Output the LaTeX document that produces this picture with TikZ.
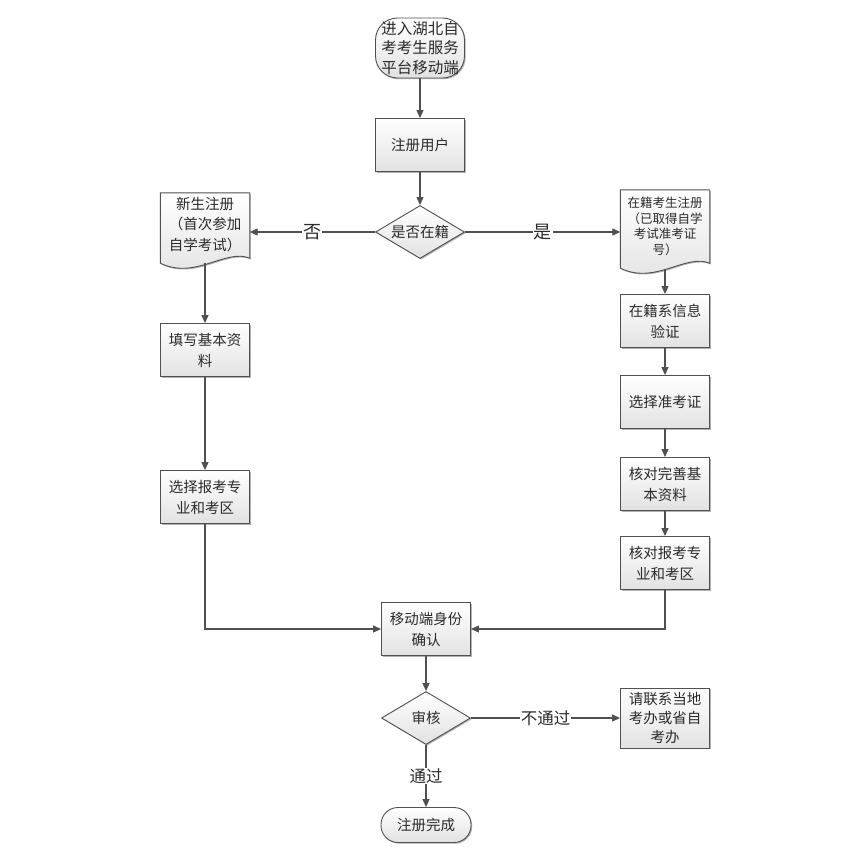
\documentclass[tikz,border=0pt]{standalone}
\usepackage{fontspec}
\setmainfont{Noto Sans CJK SC}
\usepackage{xcolor}
\usetikzlibrary{arrows.meta,shapes.geometric,shadows}
\definecolor{linec}{HTML}{505050}
\definecolor{boxbot}{HTML}{E2E2E2}
\definecolor{textc}{HTML}{2A2A2A}

\begin{document}
\begin{tikzpicture}[x=1pt,y=-1pt,
  boxshade/.style={draw=linec, line width=0.9pt, top color=white, bottom color=boxbot,
    drop shadow={shadow xshift=1.2pt, shadow yshift=-1.2pt, opacity=0.3, fill=black}},
  flowbox/.style={boxshade, minimum width=\boxW, minimum height=\boxH, inner sep=0pt,
    align=center, text=textc, font=\fontsize{14.5}{21}\selectfont},
  termbox/.style={flowbox, rounded corners=#1},
  decision/.style={flowbox, diamond, aspect=1.68},
  docspace/.style={minimum width=\boxW, inner sep=0pt},
  doctext/.style={align=center, text=textc, inner sep=0pt},
  flow/.style={draw=linec, line width=1.1pt, -{Triangle[length=8pt,width=7pt]}},
  flowlabel/.style={fill=white, inner sep=1pt, text=textc, font=\fontsize{#1}{#1}\selectfont}]
  \useasboundingbox (0,0) rectangle (850,860);
  \fill[white] (0,0) rectangle (850,860);

  % ============================================================
  %                       PARAMETERS
  % ============================================================
  \def\boxW{89pt}
  \def\boxH{53pt}
  \def\colL{205}     % left column
  \def\colM{420}     % middle column (top part)
  \def\colB{426}     % middle column (bottom part)
  \def\colR{665}     % right column

  % ============================================================
  %                       MIDDLE (top)
  % ============================================================
  \node[termbox=22pt, minimum height=60pt, font=\fontsize{15.5}{19.5}\selectfont]
    (start) at (\colM,48) {进入湖北自\\考考生服务\\平台移动端};
  \node[flowbox] (reg) at (\colM,145) {注册用户};
  \node[decision] (isreg) at (\colM,232) {是否在籍};

  % ============================================================
  %                       LEFT BRANCH (new student)
  % ============================================================
  \node[docspace, minimum height=65pt] (newdoc) at (\colL,225.5) {};
  \draw[boxshade] (newdoc.north west) -- (newdoc.north east) -- (newdoc.south east)
    .. controls +(-24,-10) and +(35,17) .. ([yshift=-5pt]newdoc.south west) -- cycle;
  \node[doctext, font=\fontsize{14.5}{20.5}\selectfont] (newtxt) at ([yshift=1pt]newdoc)
    {新生注册\\（首次参加\\自学考试）};
  \node[flowbox] (fillin) at (\colL,350) {填写基本资\\料};
  \node[flowbox] (leftsel) at (\colL,497) {选择报考专\\业和考区};

  % ============================================================
  %                       RIGHT BRANCH (registered student)
  % ============================================================
  \node[docspace, minimum height=73pt] (olddoc) at (\colR,226.5) {};
  \draw[boxshade] (olddoc.north west) -- (olddoc.north east) -- (olddoc.south east)
    .. controls +(-24,-10) and +(35,17) .. ([yshift=-5pt]olddoc.south west) -- cycle;
  \node[doctext, font=\fontsize{12.5}{15.5}\selectfont] (oldtxt) at (olddoc)
    {在籍考生注册\\（已取得自学\\考试准考证\\号）};
  \node[flowbox] (verify) at (\colR,321) {在籍系信息\\验证};
  \node[flowbox] (cert) at (\colR,402) {选择准考证};
  \node[flowbox] (checkinfo) at (\colR,484) {核对完善基\\本资料};
  \node[flowbox] (checkmajor) at (\colR,563) {核对报考专\\业和考区};

  % ============================================================
  %                       MIDDLE (bottom)
  % ============================================================
  \node[flowbox] (confirm) at (\colB,629) {移动端身份\\确认};
  \node[decision] (audit) at (\colB,718) {审核};
  \node[flowbox, minimum height=60pt, font=\fontsize{14.5}{19}\selectfont]
    (contact) at (\colR,718) {请联系当地\\考办或省自\\考办};
  \node[termbox=17pt, minimum height=35pt, minimum width=90pt] (done) at (\colB,825) {注册完成};

  % ============================================================
  %                       CONNECTORS
  % ============================================================
  \draw[flow] (start) -- (reg);
  \draw[flow] (reg) -- (isreg);
  \draw[flow] (isreg.west) -- node[flowlabel=18] (nolabel) {否} (isreg.west -| newdoc.east);
  \draw[flow] (isreg.east) -- node[flowlabel=18] (yeslabel) {是} (isreg.east -| olddoc.west);

  \draw[flow] ([yshift=-5pt]newdoc.south) -- (fillin);
  \draw[flow] (fillin) -- (leftsel);
  \draw[flow] (leftsel.south) |- (confirm.west);

  \draw[flow] ([yshift=-6pt]olddoc.south) -- (verify);
  \draw[flow] (verify) -- (cert);
  \draw[flow] (cert) -- (checkinfo);
  \draw[flow] (checkinfo) -- (checkmajor);
  \draw[flow] (checkmajor.south) |- (confirm.east);

  \draw[flow] (confirm) -- (audit);
  \draw[flow] (audit.east) -- node[flowlabel=16.5] (faillabel) {不通过} (contact.west);
  \draw[flow] (audit.south) -- node[flowlabel=16.5] (passlabel) {通过} (done.north);

\end{tikzpicture}
\end{document}
